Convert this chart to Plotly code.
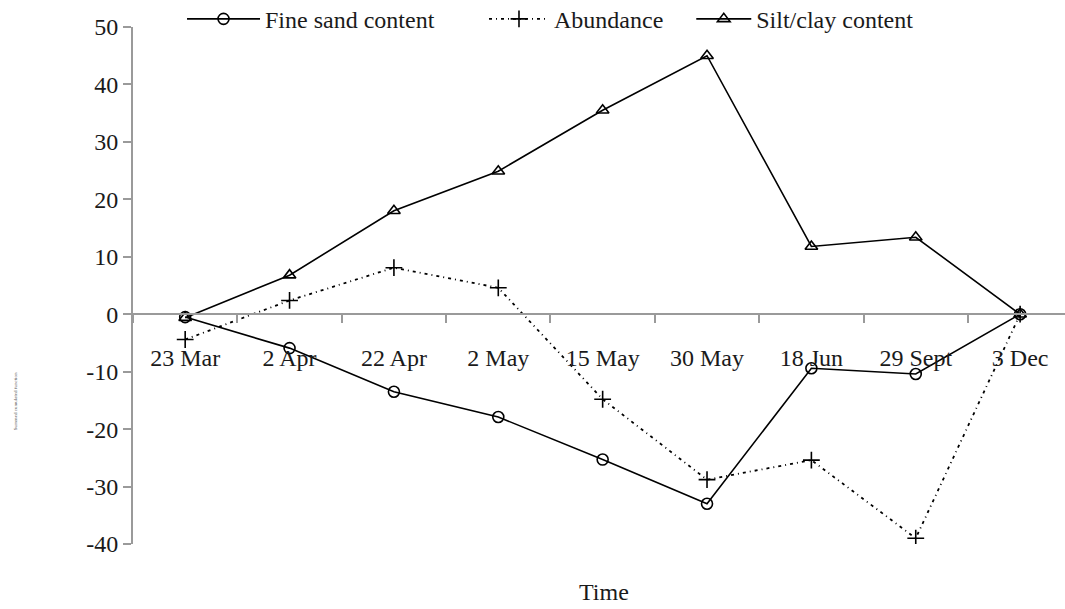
import plotly.graph_objects as go

dates = ["23 Mar", "2 Apr", "22 Apr", "2 May", "15 May", "30 May", "18 Jun", "29 Sept", "3 Dec"]
fine_sand = [-0.5, -5.9, -13.5, -17.9, -25.3, -33.0, -9.4, -10.4, 0.0]
abundance = [-4.4, 2.4, 8.1, 4.6, -14.8, -28.8, -25.4, -39.0, 0.0]
silt_clay = [-0.6, 6.8, 18.0, 24.9, 35.5, 45.0, 11.8, 13.4, 0.0]
y_tickvals = [-40, -30, -20, -10, 0, 10, 20, 30, 40, 50]
y_ticktext = ["-40", "-30", "-20", "-10", "0", "10", "20", "30", "40", "50"]

FONT = "Liberation Serif"
AXIS_GRAY = "#9a9a9a"
TXT = "#1a1a1a"

fig = go.Figure()
fig.add_trace(go.Scatter(
    x=dates, y=fine_sand, name="Fine sand content", mode="lines+markers", legend="legend",
    line=dict(color="black", width=1.6),
    marker=dict(symbol="circle-open", size=11, color="black", line=dict(width=1.6)),
))
fig.add_trace(go.Scatter(
    x=dates, y=abundance, name="Abundance", mode="lines+markers", legend="legend2",
    line=dict(color="black", width=1.8, dash="3px,4px,1px,4px"),
    marker=dict(symbol="cross-thin-open", size=12, color="black", line=dict(width=1.6, color="black")),
))
fig.add_trace(go.Scatter(
    x=dates, y=silt_clay, name="Silt/clay content", mode="lines+markers", legend="legend3",
    line=dict(color="black", width=1.6),
    marker=dict(symbol="triangle-up-open", size=11, color="black", line=dict(width=1.6)),
))

def leg(x, w):
    return dict(orientation="h", x=x, xanchor="left", y=1.0585, yanchor="top",
                font=dict(family=FONT, size=24, color=TXT), itemwidth=w,
                bgcolor="rgba(0,0,0,0)")

fig.update_layout(
    width=1065, height=609,
    margin=dict(l=133, r=0, t=27, b=65, autoexpand=False),
    paper_bgcolor="white", plot_bgcolor="white",
    font=dict(family=FONT, size=24, color=TXT),
    showlegend=True,
    legend=leg(0.0526, 73), legend2=leg(0.3766, 60), legend3=leg(0.599, 55),
    xaxis=dict(
        type="category", range=[-0.5, 8.43],
        anchor="free", position=40 / 90,
        showline=True, linecolor=AXIS_GRAY, linewidth=2,
        ticks="outside", tickson="boundaries", ticklen=8, tickcolor=AXIS_GRAY, tickwidth=1.5,
        ticklabelstandoff=22, automargin=False,
        showgrid=False, zeroline=False,
        tickfont=dict(family=FONT, size=24, color=TXT),
    ),
    yaxis=dict(
        range=[-40, 50], tickvals=y_tickvals, ticktext=y_ticktext,
        showline=True, linecolor=AXIS_GRAY, linewidth=2, automargin=False,
        ticks="outside", ticklen=8, tickcolor=AXIS_GRAY, tickwidth=1.5,
        showgrid=False, zeroline=False,
        tickfont=dict(family=FONT, size=24, color=TXT),
    ),
    annotations=[
        dict(text="Time", xref="paper", yref="paper", x=0.505, y=-0.093, xanchor="center",
             yanchor="middle", showarrow=False, font=dict(family=FONT, size=24, color=TXT)),
        dict(text="Summed cumulated function", xref="paper", yref="paper", x=-0.1266, y=0.276,
             textangle=-90, showarrow=False, xanchor="center", yanchor="middle",
             font=dict(family=FONT, size=5, color="#555")),
    ],
)

fig.write_html(
    "out.html",
    config={"displayModeBar": False},
    post_script="document.body.style.margin='0';document.body.style.overflow='hidden';",
)
